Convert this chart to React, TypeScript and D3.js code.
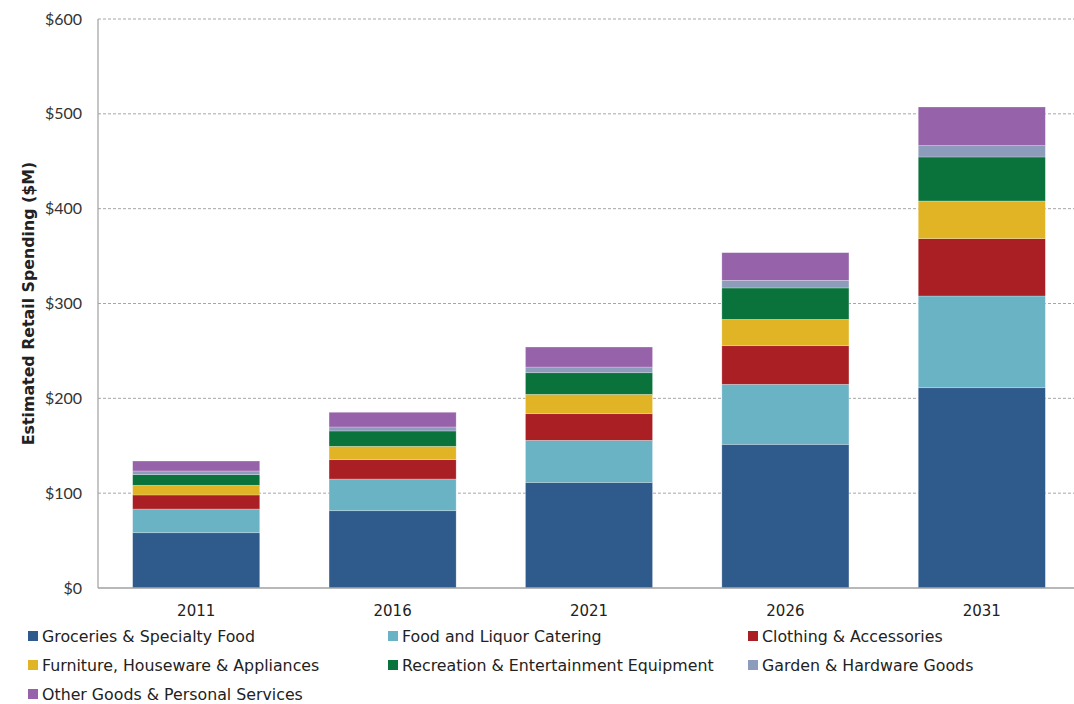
import React from "react";
import * as d3 from "d3";

const years = ["2011", "2016", "2021", "2026", "2031"];
const seriesNames = [
  "Groceries & Specialty Food",
  "Food and Liquor Catering",
  "Clothing & Accessories",
  "Furniture, Houseware & Appliances",
  "Recreation & Entertainment Equipment",
  "Garden & Hardware Goods",
  "Other Goods & Personal Services",
];
const groceries = [58.3, 81.5, 111.4, 151.5, 211.2];
const catering = [25.0, 33.4, 44.3, 63.3, 96.7];
const clothing = [14.8, 20.4, 28.1, 40.7, 60.5];
const furniture = [10.2, 14.1, 20.4, 27.8, 39.7];
const recreation = [11.2, 16.2, 22.8, 33.1, 46.4];
const garden = [3.9, 4.2, 6.0, 8.0, 12.0];
const other = [10.5, 15.5, 21.1, 29.2, 40.7];
const yTicks = [0, 100, 200, 300, 400, 500, 600];
const colors = ["#2F5A8C", "#6AB3C5", "#A91F24", "#E0B424", "#0A733C", "#8C9CBA", "#9662A9"];

const seriesValues = [groceries, catering, clothing, furniture, recreation, garden, other];

export default function App() {
  const W = 1074, H = 704;
  const left = 98, top = 19, bottom = 588, right = 1080;
  const x = d3.scaleBand<string>().domain(years).range([left, right]).paddingInner(0.353).paddingOuter(0.1765);
  const y = d3.scaleLinear().domain([0, 600]).range([bottom, top]);

  const table = years.map((yr, i) => {
    const row: any = { year: yr };
    seriesNames.forEach((s, j) => (row[s] = seriesValues[j][i]));
    return row;
  });
  const stacked = d3.stack().keys(seriesNames)(table);

  const legendCols = [30, 390, 750];
  const legendRows = [636, 665, 694];

  return (
    <svg width={W} height={H} style={{ position: "absolute", left: 0, top: 0, background: "#fff" }}>
      {yTicks.map((t) => (
        <g key={t}>
          {t > 0 && (
            <line x1={left} x2={W} y1={y(t)} y2={y(t)} stroke="#a6a6a6" strokeWidth={1} strokeDasharray="3,2" />
          )}
          <text x={82} y={y(t)} dy="0.35em" textAnchor="end" fontFamily="Lato" fontSize={16} fill="#333">
            {"$" + t}
          </text>
        </g>
      ))}
      <line x1={left} x2={left} y1={top} y2={bottom} stroke="#a0a0a0" strokeWidth={1.2} />
      {stacked.map((layer, j) => (
        <g key={j} fill={colors[j]}>
          {layer.map((d, i) => (
            <rect
              key={i}
              x={x(years[i])}
              width={x.bandwidth()}
              y={y(d[1])}
              height={y(d[0]) - y(d[1])}
              stroke="#ffffff"
              strokeOpacity={0.35}
              strokeWidth={0.7}
            />
          ))}
        </g>
      ))}
      <line x1={left} x2={W} y1={bottom} y2={bottom} stroke="#a0a0a0" strokeWidth={1.5} />
      {years.map((yr) => (
        <text key={yr} x={x(yr)! + x.bandwidth() / 2} y={611} dy="0.35em" textAnchor="middle" fontFamily="DejaVu Sans" fontSize={15} fill="#222">
          {yr}
        </text>
      ))}
      <text
        transform={`translate(28,${(top + bottom) / 2}) rotate(-90)`}
        textAnchor="middle"
        dy="0.35em"
        fontFamily="DejaVu Sans"
        fontWeight="bold"
        fontSize={15.8}
        fill="#222"
      >
        Estimated Retail Spending ($M)
      </text>
      {seriesNames.map((s, j) => {
        const cx = legendCols[j % 3];
        const cy = legendRows[Math.floor(j / 3)];
        return (
          <g key={s}>
            <rect x={cx - 2} y={cy - 5} width={10} height={10} fill={colors[j]} />
            <text x={cx + 12} y={cy} dy="0.35em" fontFamily="DejaVu Sans" fontSize={15.8} fill="#222">
              {s}
            </text>
          </g>
        );
      })}
    </svg>
  );
}
